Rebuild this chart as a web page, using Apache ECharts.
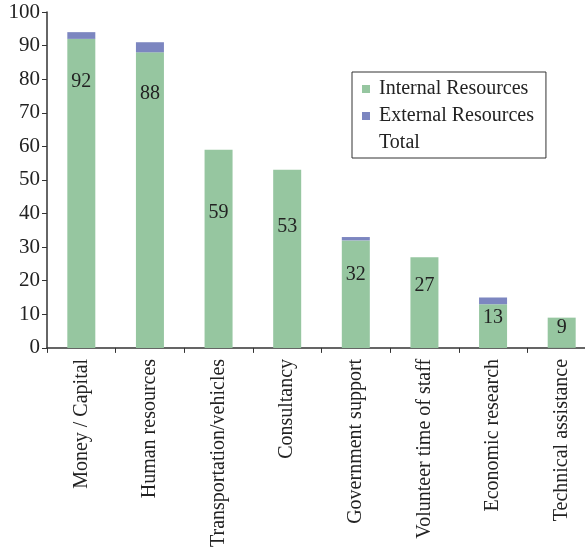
<!DOCTYPE html>
<html>
<head>
<meta charset="utf-8">
<script src="https://cdn.jsdelivr.net/npm/echarts@6/dist/echarts.min.js"></script>
<style>
html,body{margin:0;padding:0;background:#fff;overflow:hidden;}
#c{width:600px;height:550px;}
</style>
</head>
<body>
<div id="c"></div>
<script>
var categories = ['Money / Capital','Human resources','Transportation/vehicles','Consultancy','Government support','Volunteer time of staff','Economic research','Technical assistance'];
var internal = [92, 88, 59, 53, 32, 27, 13, 9];
var external = [2, 3, 0, 0, 1, 0, 2, 0];
var yTicks = [0,10,20,30,40,50,60,70,80,90,100];

var total = internal.map(function(v,i){ return v + external[i]; });
var FONT = '"Liberation Serif", "Times New Roman", serif';
var chart = echarts.init(document.getElementById('c'));
chart.setOption({
  animation: false,
  textStyle: {fontFamily: FONT},
  grid: {left: 47, right: 4, top: 12, bottom: 201, containLabel: false},
  legend: {
    orient: 'vertical', left: 352, top: 72,
    width: 191,
    padding: [7, 12, 5, 10],
    borderColor: '#333', borderWidth: 1,
    itemWidth: 8, itemHeight: 8, itemGap: 7,
    textStyle: {fontFamily: FONT, fontSize: 20, color: '#222', padding: [0,0,0,4], lineHeight: 20},
    data: [
      {name: 'Internal Resources', icon: 'rect'},
      {name: 'External Resources', icon: 'rect'},
      {name: 'Total', icon: 'none'}
    ]
  },
  xAxis: {
    type: 'category', data: categories,
    axisLine: {lineStyle: {color: '#333', width: 1.5}},
    axisTick: {show: true, length: 5, lineStyle: {color: '#333'}},
    axisLabel: {rotate: 90, margin: 11, fontFamily: FONT, fontSize: 20, color: '#222', interval: 0}
  },
  yAxis: {
    type: 'value', min: yTicks[0], max: yTicks[yTicks.length-1], interval: 10,
    splitLine: {show: false},
    axisLine: {show: true, lineStyle: {color: '#333', width: 1.5}},
    axisTick: {show: true, length: 5, lineStyle: {color: '#333'}},
    axisLabel: {margin: 7, fontFamily: FONT, fontSize: 21, color: '#222'}
  },
  series: [
    {
      name: 'Internal Resources', type: 'bar', stack: 's', barWidth: 28,
      itemStyle: {color: '#96c6a0'},
      data: internal.map(function(v){
        return {value: v, label: {position: ['50%', v > 80 ? '14%' : '32%']}};
      }),
      label: {show: true, align: 'center', verticalAlign: 'middle', fontFamily: FONT, fontSize: 20, color: '#222'}
    },
    {
      name: 'External Resources', type: 'bar', stack: 's', barWidth: 28,
      itemStyle: {color: '#7c86c0'},
      data: external
    },
    {
      name: 'Total', type: 'line', data: total, symbol: 'none', silent: true,
      lineStyle: {width: 0, opacity: 0}, itemStyle: {color: 'rgba(0,0,0,0)'}
    }
  ]
});
</script>
</body>
</html>
